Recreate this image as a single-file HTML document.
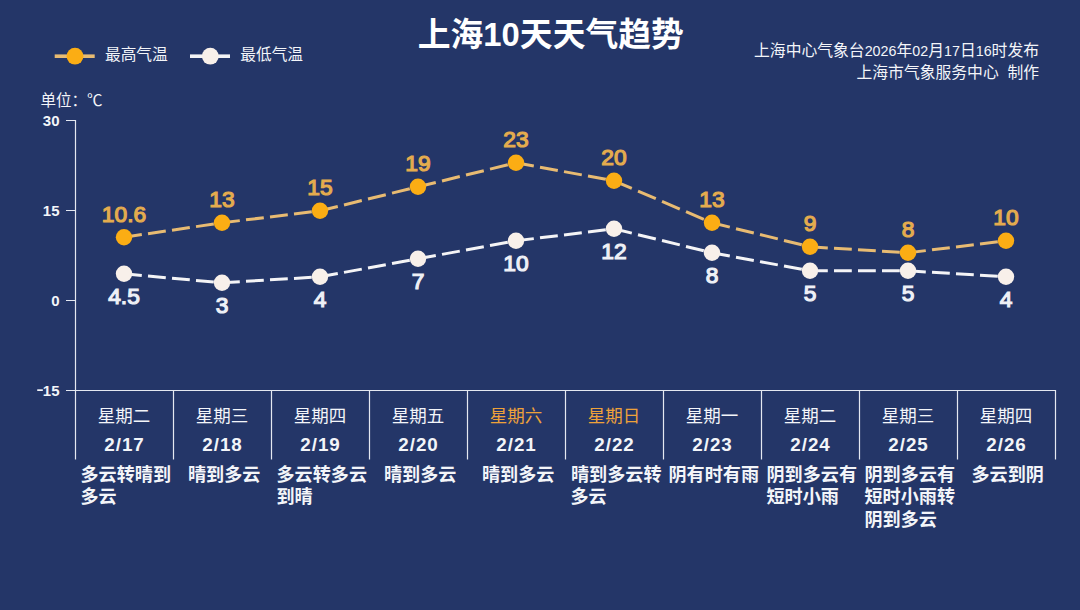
<!DOCTYPE html>
<html lang="zh-CN">
<head>
<meta charset="utf-8">
<title>上海10天天气趋势</title>
<style>
html,body{margin:0;padding:0;background:#243668;}
body{width:1080px;height:610px;overflow:hidden;font-family:"Liberation Sans",sans-serif;}
svg{display:block;}
svg text{font-family:"Liberation Sans","Noto Sans CJK SC",sans-serif;}
</style>
</head>
<body>
<svg width="1080" height="610" viewBox="0 0 1080 610" font-family="'Liberation Sans', sans-serif" role="img" aria-label="上海10天天气趋势"><rect width="1080" height="610" fill="#243668"/>
<text x="550.8" y="46.4" font-size="32.8" font-weight="bold" fill="#ffffff" text-anchor="middle">上海10天天气趋势</text>
<rect x="54.7" y="54.4" width="40" height="3.6" fill="#e8bb72"/>
<circle cx="75" cy="56.2" r="8.4" fill="#fbad14"/>
<text x="105" y="60.3" font-size="15.7" fill="#f3f5f9">最高气温</text>
<rect x="190" y="54.4" width="40" height="3.6" fill="#f4f4f6"/>
<circle cx="210.3" cy="56.2" r="8.4" fill="#f8f0ea"/>
<text x="240.3" y="60.3" font-size="15.7" fill="#f3f5f9">最低气温</text>
<text x="1039" y="56.2" font-size="15.8" fill="#f3f5f9" text-anchor="end">上海中心气象台<tspan font-size="14.3">2026</tspan>年<tspan font-size="14.3">02</tspan>月<tspan font-size="14.3">17</tspan>日<tspan font-size="14.3">16</tspan>时发布</text>
<g aria-label="上海市气象服务中心 制作"><text x="856.5" y="78.3" font-size="15.8" fill="#f3f5f9">上海市气象服务中心</text><text x="1039" y="78.3" font-size="15.8" fill="#f3f5f9" text-anchor="end">制作</text></g>
<text x="40.5" y="105.5" font-size="15.5" fill="#f3f5f9">单位：℃</text>
<path d="M75.5 120V459.5M66 120.5H75.5M66 210.5H75.5M66 300.5H75.5M66 390.5H1056.1M173.5 390V459.5M271.5 390V459.5M369.5 390V459.5M467.5 390V459.5M565.5 390V459.5M663.5 390V459.5M761.5 390V459.5M859.5 390V459.5M957.5 390V459.5M1055.5 390V459.5" stroke="#e4e8f1" stroke-width="1.2" fill="none"/>
<g font-size="15" font-weight="bold" fill="#f3f5f9" text-anchor="end">
<text x="59.5" y="125.6">30</text>
<text x="59.5" y="215.6">15</text>
<text x="59.5" y="305.6">0</text>
<text x="59.5" y="395.6">15</text>
</g>
<rect x="37.22" y="389.3" width="5.6" height="1.7" fill="#f3f5f9"/>
<g fill="none" stroke="#e8bb72" stroke-width="3"><path d="M124 237.2L222 222.8" stroke-dasharray="17.99 6.27"/><path d="M222 222.8L320 210.8" stroke-dasharray="17.93 6.25"/><path d="M320 210.8L418 186.8" stroke-dasharray="18.33 6.38"/><path d="M418 186.8L516 162.8" stroke-dasharray="18.33 6.38"/><path d="M516 162.8L614 180.8" stroke-dasharray="18.1 6.3"/><path d="M614 180.8L712 222.8" stroke-dasharray="19.37 6.75"/><path d="M712 222.8L810 246.8" stroke-dasharray="18.33 6.38"/><path d="M810 246.8L908 252.8" stroke-dasharray="17.83 6.21"/><path d="M908 252.8L1006 240.8" stroke-dasharray="17.93 6.25"/></g>
<g fill="#fbad14"><circle cx="124" cy="237.2" r="8.2"/><circle cx="222" cy="222.8" r="8.2"/><circle cx="320" cy="210.8" r="8.2"/><circle cx="418" cy="186.8" r="8.2"/><circle cx="516" cy="162.8" r="8.2"/><circle cx="614" cy="180.8" r="8.2"/><circle cx="712" cy="222.8" r="8.2"/><circle cx="810" cy="246.8" r="8.2"/><circle cx="908" cy="252.8" r="8.2"/><circle cx="1006" cy="240.8" r="8.2"/></g>
<g font-size="22.8" fill="#e4ac4e" stroke="#e4ac4e" stroke-width="1.2" text-anchor="middle">
<text x="124" y="221.6">10.6</text>
<text x="222" y="207.2">13</text>
<text x="320" y="195.2">15</text>
<text x="418" y="171.2">19</text>
<text x="516" y="147.2">23</text>
<text x="614" y="165.2">20</text>
<text x="712" y="207.2">13</text>
<text x="810" y="231.2">9</text>
<text x="908" y="237.2">8</text>
<text x="1006" y="225.2">10</text>
</g>
<g fill="none" stroke="#f4f4f6" stroke-width="3"><path d="M124 273.8L222 282.8" stroke-dasharray="17.87 6.23"/><path d="M222 282.8L320 276.8" stroke-dasharray="17.83 6.21"/><path d="M320 276.8L418 258.8" stroke-dasharray="18.1 6.3"/><path d="M418 258.8L516 240.8" stroke-dasharray="18.1 6.3"/><path d="M516 240.8L614 228.8" stroke-dasharray="17.93 6.25"/><path d="M614 228.8L712 252.8" stroke-dasharray="18.33 6.38"/><path d="M712 252.8L810 270.8" stroke-dasharray="18.1 6.3"/><path d="M810 270.8L908 270.8" stroke-dasharray="17.8 6.2"/><path d="M908 270.8L1006 276.8" stroke-dasharray="17.83 6.21"/></g>
<g fill="#f8f0ea"><circle cx="124" cy="273.8" r="8.2"/><circle cx="222" cy="282.8" r="8.2"/><circle cx="320" cy="276.8" r="8.2"/><circle cx="418" cy="258.8" r="8.2"/><circle cx="516" cy="240.8" r="8.2"/><circle cx="614" cy="228.8" r="8.2"/><circle cx="712" cy="252.8" r="8.2"/><circle cx="810" cy="270.8" r="8.2"/><circle cx="908" cy="270.8" r="8.2"/><circle cx="1006" cy="276.8" r="8.2"/></g>
<g font-size="22.8" fill="#eef0f6" stroke="#eef0f6" stroke-width="1.2" text-anchor="middle">
<text x="124" y="303.7">4.5</text>
<text x="222" y="312.7">3</text>
<text x="320" y="306.7">4</text>
<text x="418" y="288.7">7</text>
<text x="516" y="270.7">10</text>
<text x="614" y="258.7">12</text>
<text x="712" y="282.7">8</text>
<text x="810" y="300.7">5</text>
<text x="908" y="300.7">5</text>
<text x="1006" y="306.7">4</text>
</g>
<g font-size="17.5" fill="#f3f5f9" text-anchor="middle">
<text x="124" y="421.5">星期二</text>
<text x="222" y="421.5">星期三</text>
<text x="320" y="421.5">星期四</text>
<text x="418" y="421.5">星期五</text>
<text x="516" y="421.5" fill="#eea23a">星期六</text>
<text x="614" y="421.5" fill="#eea23a">星期日</text>
<text x="712" y="421.5">星期一</text>
<text x="810" y="421.5">星期二</text>
<text x="908" y="421.5">星期三</text>
<text x="1006" y="421.5">星期四</text>
</g>
<g font-size="18.8" font-weight="bold" fill="#f3f5f9" text-anchor="middle" letter-spacing="1">
<text x="124.5" y="451.3">2/17</text>
<text x="222.5" y="451.3">2/18</text>
<text x="320.5" y="451.3">2/19</text>
<text x="418.5" y="451.3">2/20</text>
<text x="516.5" y="451.3">2/21</text>
<text x="614.5" y="451.3">2/22</text>
<text x="712.5" y="451.3">2/23</text>
<text x="810.5" y="451.3">2/24</text>
<text x="908.5" y="451.3">2/25</text>
<text x="1006.5" y="451.3">2/26</text>
</g>
<g font-size="18.1" font-weight="bold" fill="#f3f5f9">
<text x="80.5" y="480.5">多云转晴到</text>
<text x="80.5" y="503">多云</text>
<text x="188" y="480.5">晴到多云</text>
<text x="276.5" y="480.5">多云转多云</text>
<text x="276.5" y="503">到晴</text>
<text x="384" y="480.5">晴到多云</text>
<text x="482" y="480.5">晴到多云</text>
<text x="571" y="480.5">晴到多云转</text>
<text x="570.5" y="503">多云</text>
<text x="668.5" y="480.5">阴有时有雨</text>
<text x="766.5" y="480.5">阴到多云有</text>
<text x="766.5" y="503">短时小雨</text>
<text x="864.5" y="480.5">阴到多云有</text>
<text x="864.5" y="503">短时小雨转</text>
<text x="864.5" y="525.5">阴到多云</text>
<text x="971.5" y="480.5">多云到阴</text>
</g>
</svg>
</body>
</html>
